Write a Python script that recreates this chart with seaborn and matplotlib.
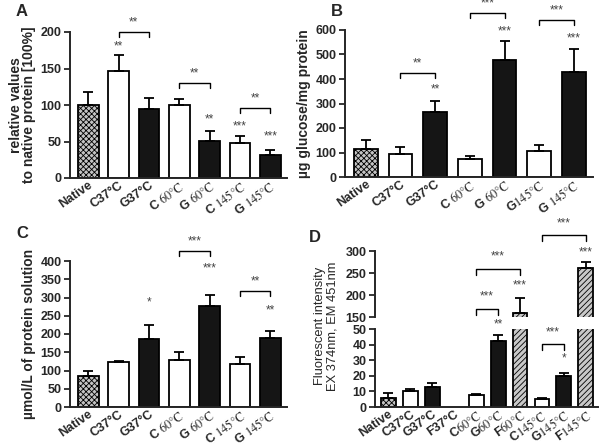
import numpy as np
import pandas as pd
import matplotlib
matplotlib.use("Agg")
import matplotlib.pyplot as plt
import seaborn as sns

sns.set_style("ticks")
plt.rcParams['font.family'] = ['Liberation Sans', 'DejaVu Sans']
plt.rcParams['mathtext.fontset'] = 'stix'
plt.rcParams['hatch.linewidth'] = 0.6

# ---- data ----
labels_a = ["Native", "C37°C", "G37°C", r"C $\mathrm{60°C}$", r"G $\mathrm{60°C}$",
            r"C $\mathrm{145°C}$", r"G $\mathrm{145°C}$"]
kinds_a = ["n", "c", "g", "c", "g", "c", "g"]
vals_a = [100, 147, 95, 100, 51, 48, 31]
errs_a = [18, 21, 14, 8, 14, 9, 7]

labels_b = ["Native", "C37°C", "G37°C", r"C $\mathrm{60°C}$", r"G $\mathrm{60°C}$",
            r"G$\mathrm{145°C}$", r"G $\mathrm{145°C}$"]
vals_b = [113, 93, 265, 73, 478, 108, 430]
errs_b = [37, 30, 45, 13, 78, 22, 92]

labels_c = labels_a
vals_c = [85, 122, 187, 128, 276, 117, 190]
errs_c = [13, 5, 37, 22, 31, 21, 18]

labels_d = ["Native", "C37°C", "G37°C", "F37°C", r"C$\mathrm{60°C}$", r"G$\mathrm{60°C}$",
            r"F$\mathrm{60°C}$", r"C$\mathrm{145°C}$", r"G$\mathrm{145°C}$", r"F$\mathrm{145°C}$"]
kinds_d = ["n", "c", "g", "f", "c", "g", "f", "c", "g", "f"]
vals_d = [6, 10, 13, np.nan, 8, 42, 160, 5, 20, 261]
errs_d = [3, 1.5, 2.5, np.nan, 0.5, 4, 34, 0.8, 2, 15]

# significance marks: (x, y, text) and brackets: (x1, x2, y, text)
stars_a = [(1, 180, "**"), (4, 80, "**"), (5, 71, "***"), (6, 57, "***")]
brackets_a = [(1, 2, 200, "**"), (3, 4, 130, "**"), (5, 6, 96, "**")]
stars_b = [(2, 357, "**"), (4, 594, "***"), (6, 565, "***")]
brackets_b = [(1, 2, 424, "**"), (3, 4, 669, "***"), (5, 6, 641, "***")]
stars_c = [(2, 286, "*"), (4, 380, "***"), (6, 264, "**")]
brackets_c = [(3, 4, 427, "***"), (5, 6, 318, "**")]
stars_d_top = [(6, 222, "***"), (9, 297, "***")]
brackets_d_top = [(4, 6, 260, "***"), (4, 5, 169, "***"), (7, 9, 336, "***")]
stars_d_bot = [(5, 53, "**"), (8, 31, "*")]
brackets_d_bot = [(7, 8, 40.5, "***")]

face = {"n": "#c4c4c4", "c": "white", "g": "#151515", "f": "#c8c8c8"}
hatch = {"n": "xxxxxx", "c": None, "g": None, "f": "//////"}


def bars(ax, labels, vals, errs, kinds):
    df = pd.DataFrame({"lab": labels, "val": vals}).dropna()
    pal = {l: face[k] for l, k in zip(labels, kinds)}
    sns.barplot(data=df, x="lab", y="val", hue="lab", order=labels, hue_order=labels,
                palette=pal, legend=False, saturation=1, width=0.68,
                edgecolor="black", linewidth=1.3, ax=ax)
    for p in ax.patches:
        i = int(round(p.get_x() + p.get_width() / 2))
        if hatch[kinds[i]]:
            p.set_hatch(hatch[kinds[i]])
    x = np.arange(len(vals))
    v = np.array(vals, float)
    e = np.array(errs, float)
    ax.errorbar(x, v, yerr=[np.zeros_like(e), e], fmt="none", ecolor="black",
                elinewidth=1.3, capsize=3.5, capthick=1.3, zorder=1)
    ax.set_xlim(-0.6, len(vals) - 0.45)
    ax.set_xlabel("")
    ax.set_ylabel("")
    sns.despine(ax=ax)
    for s in ["left", "bottom"]:
        ax.spines[s].set_linewidth(1.4)
    ax.tick_params(axis="y", labelsize=9, width=1.3, length=4, pad=2)
    ax.tick_params(axis="x", length=0, pad=1)
    ax.set_xticks(x)
    ax.set_xticklabels(labels, rotation=35, ha="right", rotation_mode="anchor",
                       fontsize=9, fontweight="bold")
    for t in ax.get_yticklabels():
        t.set_fontweight("bold")


def marks(ax, stars, brackets, d):
    for x, y, s in stars:
        ax.text(x, y, s, ha="center", va="center", fontsize=8.5, color="#444444", clip_on=False)
    for x1, x2, y, s in brackets:
        ax.plot([x1, x1, x2, x2], [y - d, y, y, y - d], color="black", lw=1.0, clip_on=False)
        ax.text((x1 + x2) / 2, y + 1.9 * d, s, ha="center", va="center", fontsize=8.5,
                color="#444444", clip_on=False)


W, H = 609, 445
fig = plt.figure(figsize=(W / 100, H / 100), dpi=100)


def box(l, r, t, b):
    return [l / W, 1 - b / H, (r - l) / W, (b - t) / H]


axA = fig.add_axes(box(70, 287, 32, 178))
bars(axA, labels_a, vals_a, errs_a, kinds_a)
axA.set_ylim(0, 200)
axA.set_yticks([0, 50, 100, 150, 200])
axA.set_ylabel("relative values\nto native protein [100%]", fontsize=10, fontweight="bold",
               labelpad=3, linespacing=0.95)
marks(axA, stars_a, brackets_a, 7)

axB = fig.add_axes(box(345, 593, 30, 177))
bars(axB, labels_b, vals_b, errs_b, kinds_a)
axB.set_ylim(0, 600)
axB.set_yticks(range(0, 601, 100))
axB.set_ylabel("µg glucose/mg protein", fontsize=10, fontweight="bold", labelpad=3)
marks(axB, stars_b, brackets_b, 20)

axC = fig.add_axes(box(70, 287, 261, 407))
bars(axC, labels_c, vals_c, errs_c, kinds_a)
axC.set_ylim(0, 400)
axC.set_yticks(range(0, 401, 50))
axC.set_ylabel("µmol/L of protein solution", fontsize=10, fontweight="bold", labelpad=3)
marks(axC, stars_c, brackets_c, 14)

axDt = fig.add_axes(box(375, 598, 251, 317))
axDb = fig.add_axes(box(375, 598, 329, 407))
bars(axDt, labels_d, vals_d, errs_d, kinds_d)
bars(axDb, labels_d, vals_d, errs_d, kinds_d)
axDt.set_ylim(150, 300)
axDt.set_yticks([150, 200, 250, 300])
axDt.spines["bottom"].set_visible(False)
axDt.tick_params(axis="x", labelbottom=False)
axDb.set_ylim(0, 50)
axDb.set_yticks(range(0, 51, 10))
marks(axDt, stars_d_top, brackets_d_top, 14)
marks(axDb, stars_d_bot, brackets_d_bot, 4)
fig.text(326 / W, 1 - 326 / H, "Fluorescent intensity\nEX 374nm, EM 451nm", rotation=90,
         ha="center", va="center", fontsize=9.3, linespacing=1.05)

for x, y, s in [(22, 12, "A"), (337, 12, "B"), (22, 234, "C"), (315, 237, "D")]:
    fig.text(x / W, 1 - y / H, s, ha="center", va="center", fontsize=12, fontweight="bold")

fig.savefig("out.png", dpi=100)
